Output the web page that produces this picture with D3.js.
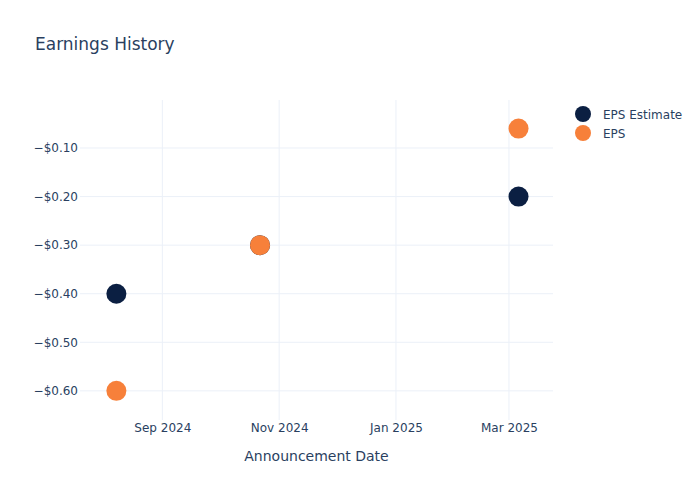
<!DOCTYPE html>
<html>
<head>
<meta charset="utf-8">
<script src="https://cdn.jsdelivr.net/npm/d3@7"></script>
<style>
  body { margin: 0; background: #fff; }
  svg { font-family: "DejaVu Sans", sans-serif; }
</style>
</head>
<body>
<svg id="chart"></svg>
<script>
// announcement dates and values
const dates = ["2024-08-08", "2024-10-22", "2025-03-06"];
const epsEstimate = [-0.40, -0.30, -0.20];
const eps = [-0.60, -0.30, -0.06];
const seriesNames = ["EPS Estimate", "EPS"];
const xTicks = ["2024-09-01", "2024-11-01", "2025-01-01", "2025-03-01"];
const yTicks = [-0.6, -0.5, -0.4, -0.3, -0.2, -0.1];

const width = 700, height = 500;
const margin = {top: 100, right: 147, bottom: 80, left: 80};
const innerW = width - margin.left - margin.right;
const innerH = height - margin.top - margin.bottom;

const parse = d3.utcParse("%Y-%m-%d");
const colors = ["#0b1f42", "#f7803a"];
const textColor = "#2a3f5f";
const gridColor = "#ebf0f8";
const font = "'DejaVu Sans', sans-serif";

const svg = d3.select("#chart").attr("width", width).attr("height", height);

const x = d3.scaleUtc()
    .domain([parse("2024-07-20"), parse("2025-03-24")])
    .range([0, innerW]);

const y = d3.scaleLinear()
    .domain([-0.66, -0.0012])
    .range([innerH, 0]);

const chart = svg.append("g")
    .attr("transform", `translate(${margin.left},${margin.top})`);

// grid lines
chart.append("g")
  .selectAll("line")
  .data(xTicks.map(parse))
  .join("line")
    .attr("x1", d => x(d)).attr("x2", d => x(d))
    .attr("y1", 0).attr("y2", innerH)
    .attr("stroke", gridColor).attr("stroke-width", 1);

chart.append("g")
  .selectAll("line")
  .data(yTicks)
  .join("line")
    .attr("x1", 0).attr("x2", innerW)
    .attr("y1", d => y(d)).attr("y2", d => y(d))
    .attr("stroke", gridColor).attr("stroke-width", 1);

// axes (labels only)
const xAxis = d3.axisBottom(x)
    .tickValues(xTicks.map(parse))
    .tickFormat(d3.utcFormat("%b %Y"))
    .tickSize(0).tickPadding(3);

chart.append("g")
    .attr("transform", `translate(0,${innerH})`)
    .call(xAxis)
    .call(g => g.select(".domain").remove())
    .call(g => g.selectAll("text").attr("fill", textColor).attr("font-size", 12)
        .attr("font-family", font));

const fmt = v => "\u2212$" + Math.abs(v).toFixed(2);
const yAxis = d3.axisLeft(y)
    .tickValues(yTicks)
    .tickFormat(fmt)
    .tickSize(0).tickPadding(2);

chart.append("g")
    .call(yAxis)
    .call(g => g.select(".domain").remove())
    .call(g => g.selectAll("text").attr("fill", textColor).attr("font-size", 12)
        .attr("font-family", font));

// points
const series = [epsEstimate, eps];
series.forEach((vals, i) => {
  chart.append("g")
    .selectAll("circle")
    .data(vals.map((v, j) => ({date: parse(dates[j]), value: v})))
    .join("circle")
      .attr("cx", d => x(d.date))
      .attr("cy", d => y(d.value))
      .attr("r", 10)
      .attr("fill", colors[i]);
});

// title
svg.append("text")
    .attr("x", 35).attr("y", 50)
    .attr("font-size", 17)
    .attr("fill", textColor)
    .text("Earnings History");

// x axis title
svg.append("text")
    .attr("x", margin.left + innerW / 2).attr("y", 461)
    .attr("text-anchor", "middle")
    .attr("font-size", 14)
    .attr("fill", textColor)
    .text("Announcement Date");

// legend
const legend = svg.append("g").attr("transform", "translate(583,114)");
seriesNames.forEach((name, i) => {
  const row = legend.append("g").attr("transform", `translate(0,${i * 19})`);
  row.append("circle").attr("r", 8).attr("fill", colors[i]);
  row.append("text")
      .attr("x", 20).attr("y", 4.5)
      .attr("font-size", 12)
      .attr("fill", textColor)
      .text(name);
});
</script>
</body>
</html>
